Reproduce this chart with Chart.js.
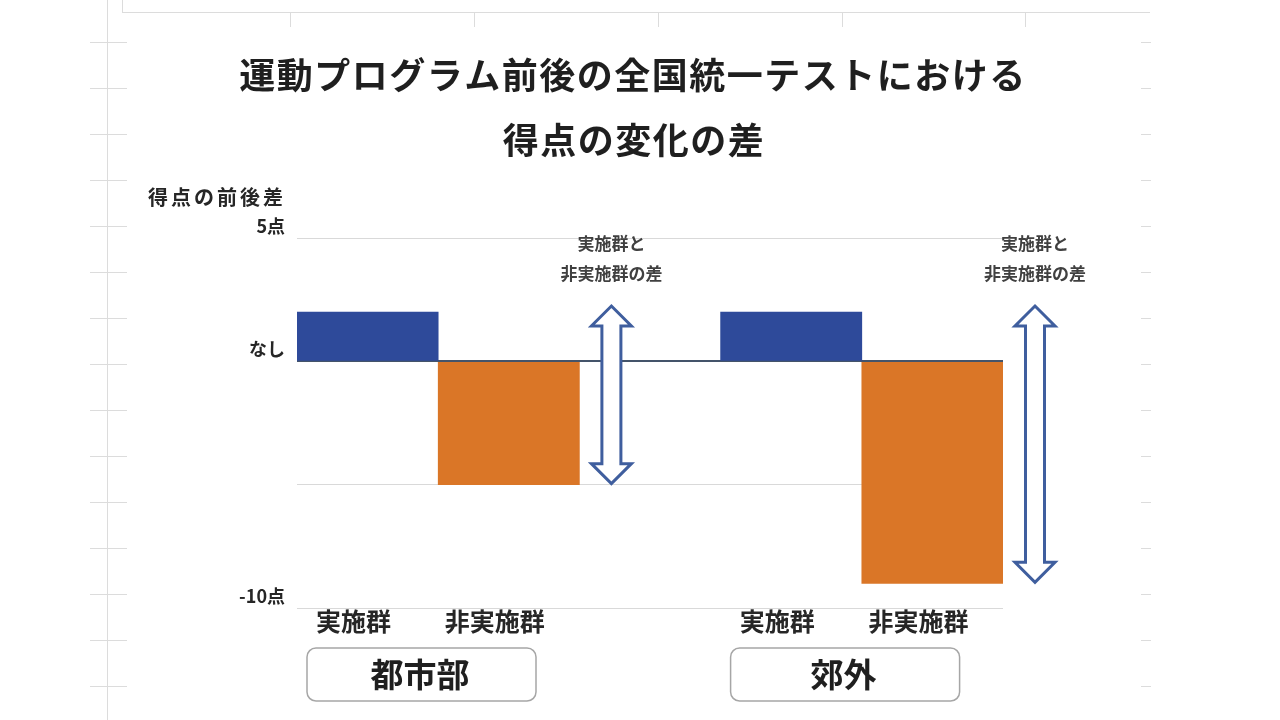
<!DOCTYPE html>
<html lang="ja">
<head>
    <meta charset="UTF-8">
    <title>運動プログラム前後の全国統一テストにおける得点の変化の差</title>
    <script src="https://cdn.jsdelivr.net/npm/chart.js"></script>
    <style>
        html, body { margin: 0; padding: 0; background: #fff; }
        #wrap { width: 1280px; height: 720px; position: relative; }
    </style>
</head>
<body>
    <div id="wrap"><canvas id="diffChart"></canvas></div>

    <script>
        // === データ ===
        const titleLines = ['運動プログラム前後の全国統一テストにおける', '得点の変化の差'];
        const yAxisTitle = '得点の前後差';
        const barLabels = ['実施群', '非実施群', '', '実施群', '非実施群'];
        const groupLabels = ['都市部', '郊外'];
        const implementedScores = [2, null, null, 2, null];
        const nonImplementedScores = [null, -5, null, null, -9];
        const yTickValues = [5, 0, -10];
        const yTickTexts = ['5点', 'なし', '-10点'];
        const diffNote = ['実施群と', '非実施群の差'];

        const FONT = '"Noto Sans CJK JP", "Noto Sans", sans-serif';

        // Excel の画面っぽい背景の罫線
        const sheetBackground = {
            id: 'sheetBackground',
            beforeDraw(chart) {
                const ctx = chart.ctx;
                ctx.save();
                ctx.fillStyle = '#fff';
                ctx.fillRect(0, 0, chart.width, chart.height);
                ctx.strokeStyle = '#dcdcdc';
                ctx.lineWidth = 1;
                ctx.beginPath();
                ctx.moveTo(107.5, 0); ctx.lineTo(107.5, chart.height);
                ctx.moveTo(122.5, 0); ctx.lineTo(122.5, 12.5);
                ctx.moveTo(122, 12.5); ctx.lineTo(1150, 12.5);
                [290, 474, 658, 842, 1025].forEach(x => {
                    ctx.moveTo(x + 0.5, 12); ctx.lineTo(x + 0.5, 27);
                });
                for (let y = 42; y < chart.height; y += 46) {
                    ctx.moveTo(90, y + 0.5); ctx.lineTo(127, y + 0.5);
                    ctx.moveTo(1141, y + 0.5); ctx.lineTo(1151, y + 0.5);
                }
                ctx.stroke();
                ctx.restore();
            }
        };

        function drawDoubleArrow(ctx, cx, top, bottom) {
            const headW = 20, headH = 20, shaftW = 9.5;
            ctx.beginPath();
            ctx.moveTo(cx, top);
            ctx.lineTo(cx + headW, top + headH);
            ctx.lineTo(cx + shaftW, top + headH);
            ctx.lineTo(cx + shaftW, bottom - headH);
            ctx.lineTo(cx + headW, bottom - headH);
            ctx.lineTo(cx, bottom);
            ctx.lineTo(cx - headW, bottom - headH);
            ctx.lineTo(cx - shaftW, bottom - headH);
            ctx.lineTo(cx - shaftW, top + headH);
            ctx.lineTo(cx - headW, top + headH);
            ctx.closePath();
            ctx.fillStyle = '#fff';
            ctx.fill();
            ctx.strokeStyle = '#3f5e9e';
            ctx.lineWidth = 3;
            ctx.lineJoin = 'miter';
            ctx.stroke();
        }

        function roundRect(ctx, x, y, w, h, r) {
            ctx.beginPath();
            ctx.moveTo(x + r, y);
            ctx.arcTo(x + w, y, x + w, y + h, r);
            ctx.arcTo(x + w, y + h, x, y + h, r);
            ctx.arcTo(x, y + h, x, y, r);
            ctx.arcTo(x, y, x + w, y, r);
            ctx.closePath();
        }

        // タイトル・矢印・注記・地域ラベル
        const overlays = {
            id: 'overlays',
            afterDatasetsDraw(chart) {
                const ctx = chart.ctx;
                const implMeta = chart.getDatasetMeta(0).data;
                const nonMeta = chart.getDatasetMeta(1).data;
                ctx.save();

                // タイトル
                ctx.fillStyle = '#1f1f1f';
                ctx.textAlign = 'center';
                ctx.textBaseline = 'middle';
                ctx.font = 'bold 36px ' + FONT;
                ctx.letterSpacing = '1.5px';
                ctx.fillText(titleLines[0], 633, 75);
                ctx.fillText(titleLines[1], 634, 140);

                // 縦軸タイトル
                ctx.font = 'bold 20px ' + FONT;
                ctx.fillStyle = '#262626';
                ctx.letterSpacing = '3px';
                ctx.fillText(yAxisTitle, 217, 197);
                ctx.letterSpacing = '0px';

                // 各地域: 矢印と注記、地域ボックス
                const pairs = [[0, 1], [3, 4]];
                pairs.forEach(([iImpl, iNon], g) => {
                    const impl = implMeta[iImpl];
                    const non = nonMeta[iNon];
                    const cx = non.x + non.width / 2 + 32;
                    const top = impl.y - 6;
                    const bottom = non.y - 1;
                    drawDoubleArrow(ctx, cx, top, bottom);

                    ctx.fillStyle = '#404040';
                    ctx.font = 'bold 17px ' + FONT;
                    ctx.textAlign = 'center';
                    ctx.fillText(diffNote[0], cx, top - 62);
                    ctx.fillText(diffNote[1], cx, top - 32);

                    const boxX = impl.x - impl.width / 2 + 10;
                    roundRect(ctx, boxX, 648, 229, 53, 9);
                    ctx.strokeStyle = '#a6a6a6';
                    ctx.lineWidth = 1.5;
                    ctx.stroke();
                    ctx.fillStyle = '#1f1f1f';
                    ctx.font = 'bold 33px ' + FONT;
                    ctx.fillText(groupLabels[g], boxX + 113, 674);
                });

                ctx.restore();
            }
        };

        const ctx = document.getElementById('diffChart').getContext('2d');
        new Chart(ctx, {
            type: 'bar',
            data: {
                labels: barLabels,
                datasets: [
                    {
                        label: '実施群',
                        data: implementedScores,
                        backgroundColor: '#2e4a9a'
                    },
                    {
                        label: '非実施群',
                        data: nonImplementedScores,
                        backgroundColor: '#da7627'
                    }
                ]
            },
            options: {
                responsive: true,
                maintainAspectRatio: false,
                animation: false,
                layout: {
                    padding: { top: 238, left: 0, right: 277, bottom: 0 }
                },
                datasets: {
                    bar: {
                        grouped: false,
                        barPercentage: 1,
                        categoryPercentage: 1,
                        borderWidth: 0
                    }
                },
                plugins: {
                    legend: { display: false },
                    title: { display: false },
                    tooltip: { enabled: false }
                },
                scales: {
                    x: {
                        grid: { display: false, drawTicks: false },
                        border: { display: false },
                        ticks: {
                            color: '#262626',
                            font: { family: FONT, size: 25, weight: 'bold' },
                            padding: -2,
                            labelOffset: -14,
                            maxRotation: 0,
                            autoSkip: false
                        },
                        afterFit: s => { s.height = 112; }
                    },
                    y: {
                        min: -10,
                        max: 5,
                        border: { display: false },
                        grid: {
                            drawTicks: false,
                            color: c => c.tick && c.tick.value === 0 ? '#44546a' : '#d9d9d9',
                            lineWidth: c => c.tick && c.tick.value === 0 ? 2 : 1
                        },
                        ticks: {
                            stepSize: 5,
                            padding: 12,
                            labelOffset: -12,
                            color: '#262626',
                            font: { family: FONT, size: 18, weight: 'bold' },
                            callback: v => {
                                const i = yTickValues.indexOf(v);
                                return i >= 0 ? yTickTexts[i] : '';
                            }
                        },
                        afterFit: s => { s.width = 297; }
                    }
                }
            },
            plugins: [sheetBackground, overlays]
        });
    </script>
</body>
</html>
